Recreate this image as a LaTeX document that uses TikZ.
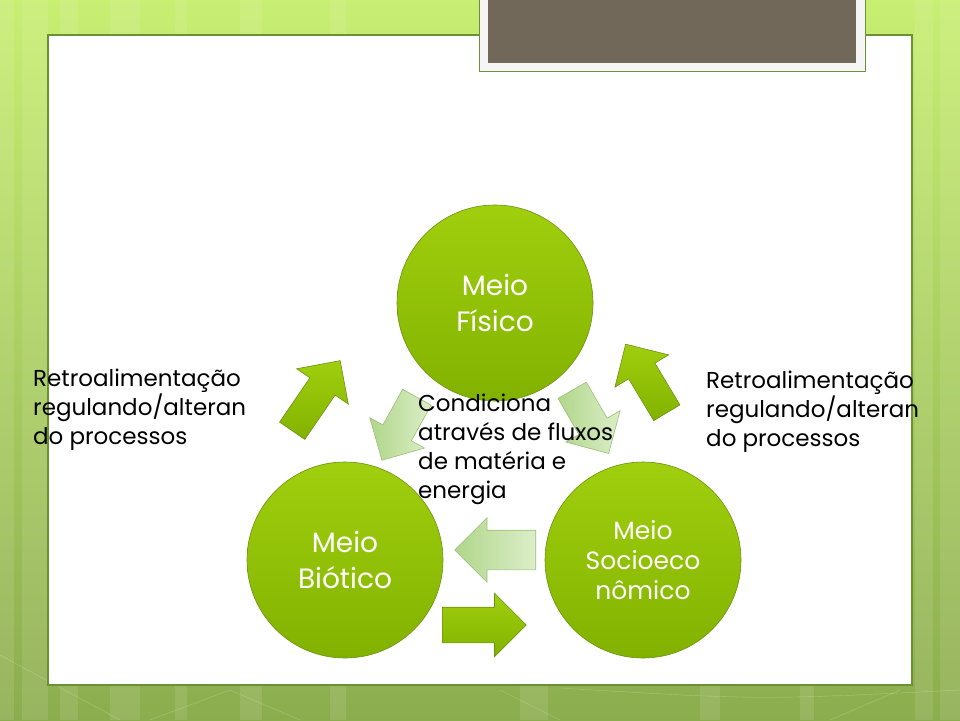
\documentclass[tikz,border=0pt]{standalone}
\usepackage{fontspec}
\setmainfont{Poppins}
\usetikzlibrary{shapes.arrows}
\definecolor{bgtop}{HTML}{C8EE72}
\definecolor{bgbot}{HTML}{8CAD4E}
\definecolor{leafhi}{HTML}{A0CF0E}
\definecolor{leaflo}{HTML}{82B200}
\definecolor{leafline}{HTML}{6A9212}
\definecolor{palehi}{HTML}{DCEEC8}
\definecolor{palelo}{HTML}{B0D68A}
\definecolor{paleline}{HTML}{9DBD7C}
\definecolor{titlebox}{HTML}{71685A}
\definecolor{rimgreen}{HTML}{6B9036}
\tikzset{
  meio/.style={circle,minimum size=196pt,inner sep=0pt,top color=leafhi,bottom color=leaflo,
    draw=leafline,line width=0.6pt,text=white,align=center,font=\fontsize{28}{36}\selectfont},
  solidarrow/.style={single arrow,anchor=tail,draw=leafline,line width=0.6pt,top color=leafhi,bottom color=leaflo,
    inner xsep=0pt,inner ysep=15pt,single arrow head extend=16pt,minimum width=62pt},
  palearrow/.style={single arrow,anchor=tail,draw=paleline,line width=0.6pt,left color=palelo,right color=palehi,
    inner xsep=0pt,inner ysep=16pt,single arrow head extend=15pt,minimum width=62pt},
  note/.style={align=left,anchor=base west,inner sep=0pt,font=\fontsize{23}{29}\selectfont}
}
\begin{document}
\begin{tikzpicture}[x=1pt,y=-1pt]
\useasboundingbox (0,0) rectangle (960,720);
% fundo
\shade[top color=bgtop,bottom color=bgbot] (0,0) rectangle (960,720);
\foreach \sx/\sw in {0/14,22/26,60/18,110/30,175/12,240/22,330/16,520/28,700/20,800/14,915/18,940/20}
  \fill[white,opacity=0.1] (\sx,0) rectangle ++(\sw,720);
\draw[white,opacity=0.25] (0,655) -- (120,720);
\draw[white,opacity=0.25] (150,720) -- (230,690) -- (300,720);
\draw[white,opacity=0.25] (500,690) -- (560,720);
\draw[white,opacity=0.25] (560,688) .. controls (760,700) .. (960,690);
\draw[white,opacity=0.25] (830,720) -- (900,690);
% slide
\draw[rimgreen,line width=1.2pt,fill=white] (48,35) rectangle (912,685);
% caixa do titulo
\draw[rimgreen,line width=1pt,fill=black!4] (479,-5) rectangle (865,71);
\fill[titlebox] (488,-5) rectangle (856,63);
% meios
\node[meio] (fisico) at (495,303) {Meio\\Físico};
\node[meio] (biotico) at (345,560) {Meio\\Biótico};
\node[meio,font=\fontsize{25}{30}\selectfont] (socio) at (643,560) {Meio\\Socioeco\\nômico};
% setas (posicionadas pela cauda)
\node[solidarrow,minimum height=85pt,rotate=55.6] (retroA) at (292,431) {};
\node[solidarrow,minimum height=80pt,rotate=121] (retroB) at (667,413) {};
\node[palearrow,minimum height=72pt,rotate=241] (condA) at (417,397) {};
\node[palearrow,minimum height=73pt,rotate=-60] (condB) at (572,390) {};
\node[palearrow,minimum height=81pt,minimum width=64pt,inner ysep=19.5pt,single arrow head extend=12.5pt,rotate=180] (volta) at (536,550) {};
\node[solidarrow,minimum height=84pt,minimum width=63pt,inner ysep=17.5pt,single arrow head extend=14pt] (vai) at (442,625) {};
% textos
\node[note] (retroEsq) at (33,444) {Retroalimentação\\regulando/alteran\\do processos};
\node[note] (retroDir) at (706,446) {Retroalimentação\\regulando/alteran\\do processos};
\node[note] (fluxos) at (418,498) {Condiciona\\através de fluxos\\de matéria e\\energia};
\end{tikzpicture}
\end{document}
